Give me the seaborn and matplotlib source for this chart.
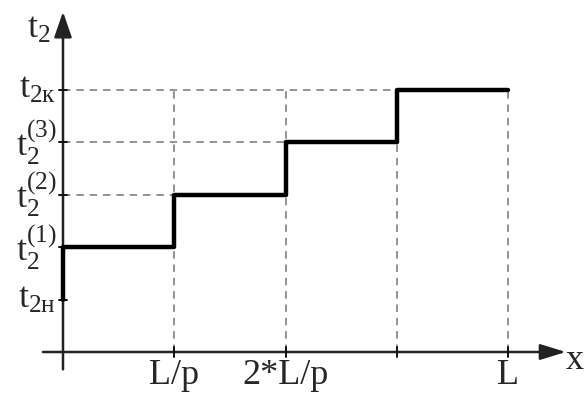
import matplotlib
matplotlib.use("Agg")
import matplotlib.pyplot as plt
import seaborn as sns
import pandas as pd

# ---- data ----
step_x = [0, 0, 1, 2, 3, 4]
step_y = [1, 2, 3, 4, 5, 5]
x_ticks = [1, 2, 3, 4]
x_tick_labels = ["L/p", "2*L/p", "", "L"]
y_levels = [1, 2, 3, 4, 5]
y_tick_labels = [r"t$_{2\mathrm{н}}$", r"t$_2^{(1)}$", r"t$_2^{(2)}$", r"t$_2^{(3)}$", r"t$_{2\mathrm{к}}$"]
grid_levels = [3, 4, 5]
grid_ends = [1, 2, 3]

sns.set_theme(style="white")
plt.rcParams["font.family"] = ["Liberation Serif", "DejaVu Serif"]
plt.rcParams["mathtext.fontset"] = "custom"
plt.rcParams["mathtext.rm"] = "Liberation Serif"
plt.rcParams["mathtext.it"] = "Liberation Serif"
plt.rcParams["mathtext.bf"] = "Liberation Serif"

fig = plt.figure(figsize=(5.84, 4.05), dpi=100)
ax = fig.add_axes([0, 0, 1, 1])
ax.set_axis_off()

# pixel mapping: x0 at 63px, 111.25 px/unit; y0 at 352px from top, 52.5 px/unit
ax.set_xlim(-63 / 111.25, 521 / 111.25)
ax.set_ylim((352 - 405) / 52.5, 352 / 52.5)

dash_kw = dict(color="#808080", lw=1.2, linestyle=(0, (4.5, 3.5)), zorder=1)
for lev, end in zip(grid_levels, grid_ends):
    ax.plot([0, end], [lev, lev], **dash_kw)
for xt in x_ticks:
    ax.plot([xt, xt], [0, 5], **dash_kw)

# axes with arrows
ax.annotate("", xy=(0, 6.48), xytext=(0, -0.33),
            arrowprops=dict(arrowstyle="-|>,head_length=1.3,head_width=0.45", lw=1.8,
                            color="#222222", shrinkA=0, shrinkB=0), zorder=2)
ax.annotate("", xy=(4.52, 0), xytext=(-0.18, 0),
            arrowprops=dict(arrowstyle="-|>,head_length=1.3,head_width=0.4", lw=1.8,
                            color="#222222", shrinkA=0, shrinkB=0), zorder=2)

# small tick marks
for lev in y_levels:
    ax.plot([-0.035, 0.035], [lev, lev], color="#111111", lw=1.4, zorder=3)
for xt in x_ticks:
    ax.plot([xt, xt], [-0.1, 0.1], color="#111111", lw=1.4, zorder=3)

# step line via seaborn
df = pd.DataFrame({"x": step_x, "y": step_y})
sns.lineplot(data=df, x="x", y="y", estimator=None, sort=False,
             drawstyle="steps-post", color="black", lw=3.2, ax=ax, zorder=4)
ax.set_xlabel("")
ax.set_ylabel("")

fs = 26
for xt, lab in zip(x_ticks, x_tick_labels):
    ax.text(xt, -0.14, lab, ha="center", va="top", fontsize=fs)
for lev, lab in zip(y_levels, y_tick_labels):
    ax.text(-0.06, lev, lab, ha="right", va="center", fontsize=fs)

ax.text(-0.11, 6.15, r"t$_2$", ha="right", va="center", fontsize=fs)
ax.text(4.6, -0.17, "x", ha="center", va="center", fontsize=fs)

fig.savefig("out.png", dpi=100)
